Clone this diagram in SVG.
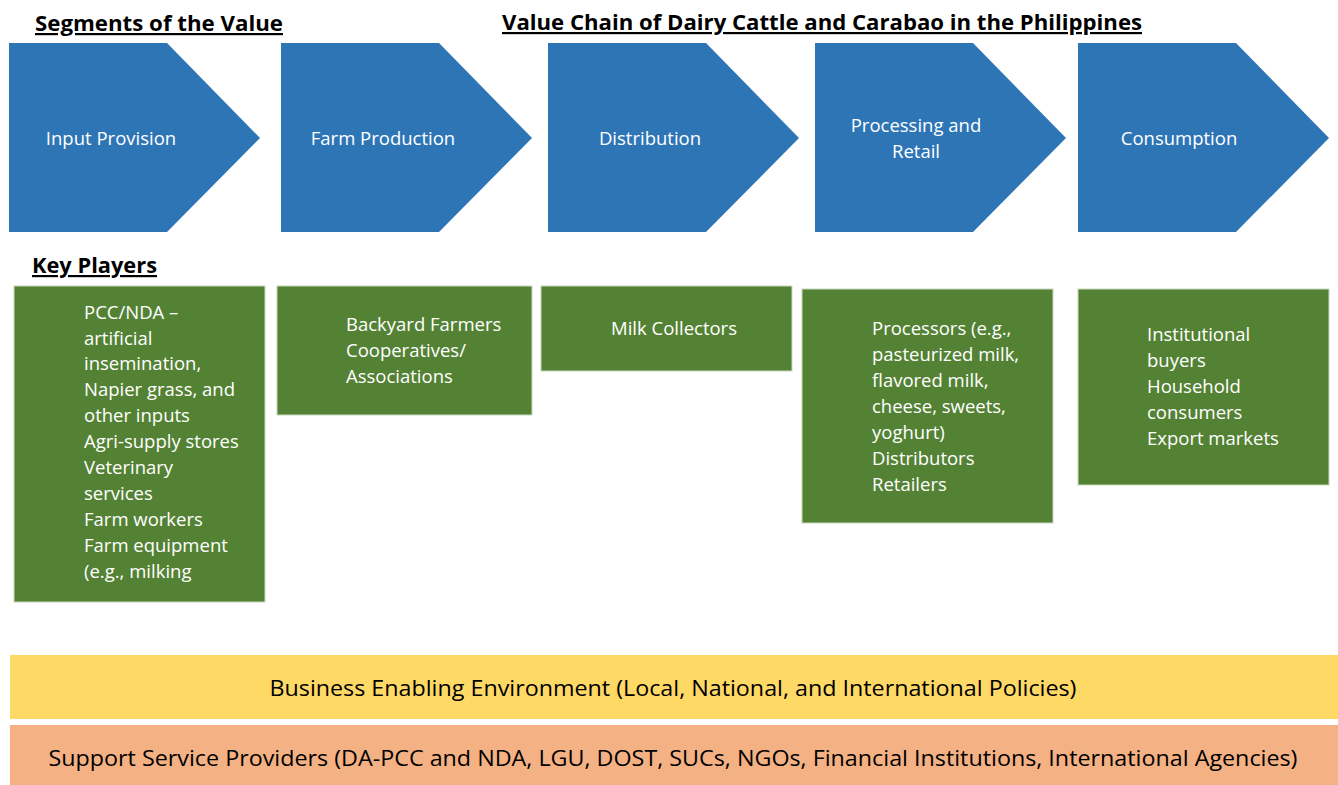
<svg xmlns="http://www.w3.org/2000/svg" width="1338" height="785" viewBox="0 0 1338 785">
<style>
.hdr{font-family:"Open Sans","Liberation Sans",sans-serif;font-weight:bold;font-size:22px;fill:#000;text-decoration:underline}
.chev{fill:#2E75B6}
.ct{font-family:"Open Sans","Liberation Sans",sans-serif;font-size:18.5px;fill:#fff;text-anchor:middle}
.box{fill:#548235;stroke:#c9d8bd;stroke-width:1}
.bt{font-family:"Open Sans","Liberation Sans",sans-serif;font-size:18.5px;fill:#fff}
.bar{font-family:"Open Sans","Liberation Sans",sans-serif;font-size:21px;fill:#000;text-anchor:middle}
</style>
<rect width="1338" height="785" fill="#fff"/>
<g id="headers">
<text class="hdr" x="35" y="31" textLength="248" lengthAdjust="spacingAndGlyphs">Segments of the Value</text>
<text class="hdr" x="502" y="30" textLength="640" lengthAdjust="spacingAndGlyphs">Value Chain of Dairy Cattle and Carabao in the Philippines</text>
<text class="hdr" x="32" y="273" textLength="125" lengthAdjust="spacingAndGlyphs">Key Players</text>
</g>
<g id="seg-input">
<polygon class="chev" points="9,43 167,43 260,138 167,232 9,232"/>
<text class="ct" x="111" y="145">Input Provision</text>
</g>
<g id="seg-farm">
<polygon class="chev" points="281,43 439,43 532,138 439,232 281,232"/>
<text class="ct" x="383" y="145">Farm Production</text>
</g>
<g id="seg-distribution">
<polygon class="chev" points="548,43 706,43 799,138 706,232 548,232"/>
<text class="ct" x="650" y="145">Distribution</text>
</g>
<g id="seg-processing">
<polygon class="chev" points="815,43 973,43 1066,138 973,232 815,232"/>
<text class="ct" x="916" y="132">Processing and</text>
<text class="ct" x="916" y="158">Retail</text>
</g>
<g id="seg-consumption">
<polygon class="chev" points="1078,43 1236,43 1329,138 1236,232 1078,232"/>
<text class="ct" x="1179" y="145">Consumption</text>
</g>
<g id="kp-input">
<rect class="box" x="14" y="286" width="251" height="316"/>
<text class="bt" x="84" y="319">PCC/NDA –</text>
<text class="bt" x="84" y="345">artificial</text>
<text class="bt" x="84" y="370">insemination,</text>
<text class="bt" x="84" y="396">Napier grass, and</text>
<text class="bt" x="84" y="422">other inputs</text>
<text class="bt" x="84" y="448">Agri-supply stores</text>
<text class="bt" x="84" y="474">Veterinary</text>
<text class="bt" x="84" y="500">services</text>
<text class="bt" x="84" y="526">Farm workers</text>
<text class="bt" x="84" y="552">Farm equipment</text>
<text class="bt" x="84" y="578">(e.g., milking</text>
</g>
<g id="kp-farm">
<rect class="box" x="277" y="286" width="255" height="129"/>
<text class="bt" x="346" y="331">Backyard Farmers</text>
<text class="bt" x="346" y="357">Cooperatives/</text>
<text class="bt" x="346" y="383">Associations</text>
</g>
<g id="kp-distribution">
<rect class="box" x="541" y="286" width="251" height="85"/>
<text class="bt" x="611" y="335">Milk Collectors</text>
</g>
<g id="kp-processing">
<rect class="box" x="802" y="289" width="251" height="234"/>
<text class="bt" x="872" y="335">Processors (e.g.,</text>
<text class="bt" x="872" y="361">pasteurized milk,</text>
<text class="bt" x="872" y="387">flavored milk,</text>
<text class="bt" x="872" y="413">cheese, sweets,</text>
<text class="bt" x="872" y="439">yoghurt)</text>
<text class="bt" x="872" y="465">Distributors</text>
<text class="bt" x="872" y="491">Retailers</text>
</g>
<g id="kp-consumption">
<rect class="box" x="1078" y="289" width="251" height="196"/>
<text class="bt" x="1147" y="341">Institutional</text>
<text class="bt" x="1147" y="367">buyers</text>
<text class="bt" x="1147" y="393">Household</text>
<text class="bt" x="1147" y="419">consumers</text>
<text class="bt" x="1147" y="445">Export markets</text>
</g>
<g id="enabling-environment">
<rect x="10" y="655" width="1328" height="64" fill="#FFD966"/>
<text class="bar" x="673" y="696" textLength="807" lengthAdjust="spacingAndGlyphs">Business Enabling Environment (Local, National, and International Policies)</text>
</g>
<g id="support-services">
<rect x="10" y="725" width="1328" height="60" fill="#F4B183"/>
<text class="bar" x="673" y="766" textLength="1249" lengthAdjust="spacingAndGlyphs">Support Service Providers (DA-PCC and NDA, LGU, DOST, SUCs, NGOs, Financial Institutions, International Agencies)</text>
</g>
<g id="connectors"></g>
</svg>
